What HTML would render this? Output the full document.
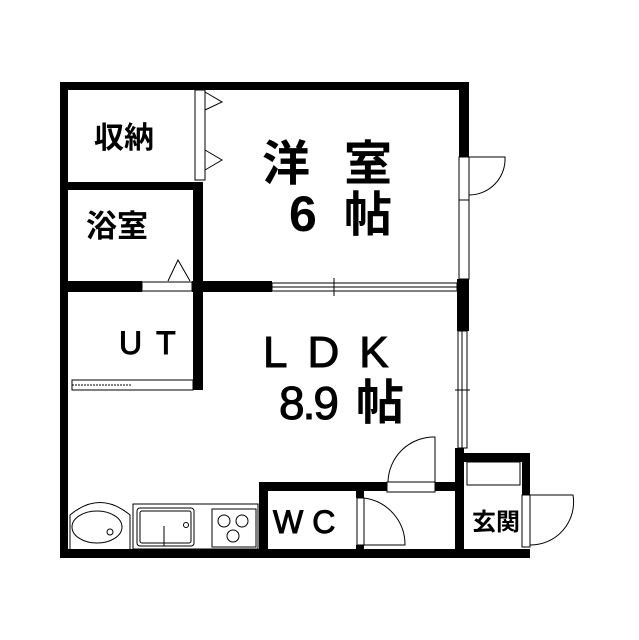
<!DOCTYPE html>
<html><head><meta charset="utf-8"><style>
html,body{margin:0;padding:0;background:#fff;width:639px;height:640px;overflow:hidden}
svg text{font-family:"Liberation Sans","Noto Sans CJK JP",sans-serif;fill:#000}
.b{font-weight:bold}
.s{stroke:#000;stroke-width:1}
</style></head><body>
<svg width="639" height="640" viewBox="0 0 639 640" xmlns="http://www.w3.org/2000/svg">
<g fill="#000">
<rect x="60" y="82" width="409" height="8"/>
<rect x="60" y="82" width="8" height="476"/>
<rect x="60" y="549" width="470" height="9"/>
<rect x="459" y="82" width="10" height="75"/>
<rect x="457" y="279" width="12" height="52"/>
<rect x="455" y="448" width="9" height="101"/>
<rect x="68" y="182" width="135" height="8"/>
<rect x="193" y="182" width="10" height="208"/>
<rect x="68" y="281" width="74" height="11"/>
<rect x="192" y="281" width="80" height="11"/>
<rect x="259" y="482" width="128" height="9"/>
<rect x="435" y="482" width="27" height="9"/>
<rect x="259" y="482" width="9" height="67"/>
<rect x="356" y="482" width="8" height="16"/>
<rect x="356" y="545" width="8" height="4"/>
<rect x="462" y="453" width="68" height="9"/>
<rect x="522" y="453" width="8" height="42"/>
</g>
<g fill="#fff" stroke="#000" stroke-width="1">
<rect x="195" y="90" width="10" height="90"/>
<polyline points="205,92 222,102 205,110" fill="none"/>
<polyline points="205,150 222,160 205,170" fill="none"/>
<rect x="142" y="282" width="50" height="9"/>
<polyline points="168,281 178,260 190,281" fill="none"/>
<rect x="272" y="283" width="185" height="8"/>
<line x1="272" y1="287" x2="457" y2="287"/>
<line x1="334" y1="278" x2="334" y2="296"/>
<rect x="459" y="157" width="10" height="122"/>
<line x1="459" y1="200" x2="469" y2="200"/>
<path d="M469,157 L505,157 A36,36 0 0 1 469,195" fill="none"/>
<rect x="458" y="331" width="9" height="117"/>
<line x1="462" y1="331" x2="462" y2="448"/>
<line x1="455" y1="390" x2="470" y2="390"/>
<rect x="72" y="380" width="121" height="10"/>
<line x1="72" y1="385" x2="132" y2="385" stroke-dasharray="2,1"/>
<rect x="387" y="482" width="48" height="10"/>
<path d="M388,482 A46,46 0 0 1 435,437 L435,482" fill="none"/>
<rect x="357" y="498" width="7" height="47"/>
<path d="M364,498 A47,47 0 0 1 405,545 L364,545" fill="none"/>
<rect x="467" y="462" width="53" height="23"/>
<rect x="522" y="495" width="8" height="52"/>
<path d="M530,495 L573,495 A43,43 0 0 1 530,545" fill="none"/>
<path d="M70,549 L70,515 Q100,490 130,515 L130,549" fill="none"/>
<ellipse cx="97" cy="527" rx="25" ry="16"/>
<circle cx="110" cy="532" r="3"/>
<rect x="133" y="504" width="125" height="45"/>
<rect x="137" y="508" width="57" height="38" rx="3"/>
<rect x="140" y="511" width="51" height="32" rx="2" fill="none"/>
<circle cx="186" cy="525" r="2.5"/>
<line x1="164" y1="526" x2="164" y2="546"/>
<rect x="212" y="509" width="44" height="38"/>
<circle cx="224" cy="521" r="6"/><circle cx="242" cy="521" r="6"/><circle cx="233" cy="536" r="6"/>
</g>
<text class="b" x="94" y="148" font-size="30">収納</text>
<text class="b" x="86" y="237" font-size="31">浴室</text>
<text class="b" x="262" y="180" font-size="48">洋</text>
<text class="b" x="344" y="180" font-size="48">室</text>
<text class="b" x="289" y="231" font-size="50">6</text>
<text class="b" x="344" y="231" font-size="48">帖</text>
<text class="s" x="119" y="354" font-size="32" letter-spacing="14">UT</text>
<text class="s" x="263" y="367" font-size="44" letter-spacing="20">LDK</text>
<text class="s" x="279" y="419" font-size="46" letter-spacing="-2">8.9</text>
<text x="356" y="419" font-size="48" class="b">帖</text>
<text class="s" x="273" y="533" font-size="32" letter-spacing="9">WC</text>
<text class="b" x="472" y="530" font-size="24">玄関</text>
</svg>
</body></html>
